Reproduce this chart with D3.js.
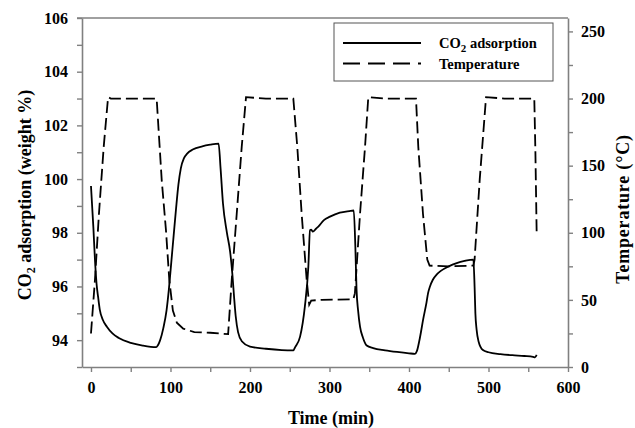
<!DOCTYPE html>
<html>
<head>
<meta charset="utf-8">
<script src="https://cdn.jsdelivr.net/npm/d3@7"></script>
<style>
  body { margin: 0; background: #fff; }
  text { font-family: "Liberation Serif", "Times New Roman", serif; font-weight: bold; fill: #000; }
</style>
</head>
<body>
<svg id="chart"></svg>
<script>
const totalWidth = 635;
const totalHeight = 428;

// CO2 adsorption (weight %) vs time (min)
const co2Time = [0, 3, 5, 7, 9, 11, 15, 20, 27, 35, 50, 65, 82, 84,
  87, 91, 95, 98, 101, 104, 107, 110, 113, 117, 121, 128, 140, 150, 160.5,
  163, 166, 171, 175, 178, 180, 182, 185, 190, 200, 220, 240, 254.5,
  257, 263, 269, 273.4, 275.5, 277, 279, 283, 286, 293, 300.6, 313, 325, 330.5,
  332.5, 334, 336, 338.4, 342, 346.8, 355, 370, 385, 400, 407.5,
  410, 413.8, 418, 422, 424, 426.4, 430, 435, 440, 450, 460, 470, 481,
  482.5, 483.5, 485, 487.5, 493, 500, 515, 530, 545, 556, 558.5, 560.6];
const co2Value = [99.74, 98.2, 97.0, 96.1, 95.6, 95.15, 94.75, 94.5, 94.25, 94.08, 93.9, 93.8, 93.74, 93.8,
  94.0, 94.45, 95.1, 95.9, 96.9, 97.9, 98.9, 99.8, 100.4, 100.78, 100.95, 101.1, 101.22, 101.28, 101.32,
  100.4, 99.1, 98.0, 97.3, 96.4, 95.6, 94.9, 94.3, 93.95, 93.76, 93.68, 93.63, 93.62,
  93.75, 94.13, 95.25, 96.74, 98.1, 98.12, 98.04, 98.15, 98.23, 98.47, 98.6, 98.75, 98.81, 98.83,
  97.5, 95.9, 95.1, 94.5, 94.1, 93.8, 93.7, 93.62, 93.56, 93.51, 93.49,
  93.6, 94.1, 94.8, 95.4, 95.75, 96.0, 96.25, 96.45, 96.58, 96.75, 96.87, 96.95, 97.0,
  96.0, 95.0, 94.4, 93.95, 93.63, 93.55, 93.48, 93.44, 93.41, 93.38, 93.36, 93.45];

// Temperature (deg C) vs time (min)
const tempTime = [0, 5, 10, 16, 21.5, 25, 40, 82.6,
  89, 94.3, 98.5, 103, 108, 116, 130, 150, 172.5,
  177, 183.3, 189.6, 195, 220, 254.5,
  259.5, 265, 271.3, 274.5, 277, 290, 330,
  332, 338.4, 344.7, 348.8, 370, 408.8,
  411.7, 417.6, 423, 425.9, 450, 481,
  482.5, 489, 496.9, 520, 557.6, 559, 560.6];
const tempValue = [25, 65, 114, 164, 201, 200, 200, 200,
  139, 102, 65, 42, 33, 28.6, 26, 25.5, 24.5,
  64.6, 114, 164, 201, 200, 200,
  164, 114, 65, 46.5, 49.5, 50, 50.5,
  55, 114, 164, 201, 200, 200,
  164, 114, 80, 75.5, 75, 75.5,
  80, 140, 201, 200, 200, 160, 99];

const xTicks = d3.range(0, 601, 50);
const xLabels = [0, 100, 200, 300, 400, 500, 600];
const yLeftTicks = d3.range(93, 106.01, 1);
const yLeftLabels = [94, 96, 98, 100, 102, 104, 106];
const yRightTicks = d3.range(0, 251, 25);
const yRightLabels = [0, 50, 100, 150, 200, 250];

const legendNames = ["CO2 adsorption", "Temperature"];

const svg = d3.select('#chart')
  .attr('width', totalWidth)
  .attr('height', totalHeight);

const plotLeft = 82, plotRight = 568, plotTop = 18, plotBottom = 367;

const x = d3.scaleLinear().domain([-11.3, 600]).range([plotLeft, plotRight]);
const yL = d3.scaleLinear().domain([93, 106]).range([plotBottom, plotTop]);
const yR = d3.scaleLinear().domain([0, 260]).range([plotBottom, plotTop]);

const axisColor = "#808080";

function styleAxis(g) {
  g.select(".domain").attr("stroke", axisColor).attr("stroke-width", 1.6);
  g.selectAll(".tick line").attr("stroke", axisColor).attr("stroke-width", 1.4);
  g.selectAll(".tick text").attr("font-size", "16px").attr("font-family", "Liberation Serif, Times New Roman, serif").attr("font-weight", "bold").attr("fill", "#000");
}

// top frame line
svg.append("line")
  .attr("x1", plotLeft - 5).attr("x2", plotRight)
  .attr("y1", plotTop).attr("y2", plotTop)
  .attr("stroke", axisColor).attr("stroke-width", 1.6);

svg.append("g")
  .attr("transform", `translate(0,${plotBottom})`)
  .call(d3.axisBottom(x).tickValues(xTicks).tickSize(5).tickSizeOuter(0).tickPadding(10)
    .tickFormat(d => xLabels.includes(d) ? d : ""))
  .call(styleAxis);

svg.append("g")
  .attr("transform", `translate(${plotLeft},0)`)
  .call(d3.axisLeft(yL).tickValues(yLeftTicks).tickSize(5).tickSizeOuter(0).tickPadding(9)
    .tickFormat(d => yLeftLabels.includes(d) ? d : ""))
  .call(styleAxis);

svg.append("g")
  .attr("transform", `translate(${plotRight},0)`)
  .call(d3.axisRight(yR).tickValues(yRightTicks).tickSize(5).tickSizeOuter(0).tickPadding(8)
    .tickFormat(d => yRightLabels.includes(d) ? d : ""))
  .call(styleAxis);

// series
const co2Line = d3.line()
  .x((d, i) => x(co2Time[i]))
  .y(d => yL(d))
  .curve(d3.curveMonotoneX);

svg.append("path")
  .attr("d", co2Line(co2Value))
  .attr("fill", "none")
  .attr("stroke", "#000")
  .attr("stroke-width", 1.8);

const tempLine = d3.line()
  .x((d, i) => x(tempTime[i]))
  .y(d => yR(d));

svg.append("path")
  .attr("d", tempLine(tempValue))
  .attr("fill", "none")
  .attr("stroke", "#000")
  .attr("stroke-width", 1.8)
  .attr("stroke-dasharray", "12,5");

// axis titles
svg.append("text")
  .attr("x", 331).attr("y", 424)
  .attr("text-anchor", "middle")
  .attr("font-size", "18px")
  .text("Time (min)");

const yTitle = svg.append("text")
  .attr("transform", "translate(31,195) rotate(-90)")
  .attr("text-anchor", "middle")
  .attr("font-size", "18px");
yTitle.append("tspan").text("CO");
yTitle.append("tspan").attr("font-size", "12px").attr("dy", 4).text("2");
yTitle.append("tspan").attr("dy", -4).text(" adsorption (weight %)");

svg.append("text")
  .attr("transform", "translate(629,209) rotate(-90)")
  .attr("text-anchor", "middle")
  .attr("font-size", "18px")
  .attr("letter-spacing", "0.8px")
  .text("Temperature (°C)");

// legend
const legend = svg.append("g");
legend.append("rect")
  .attr("x", 334).attr("y", 23)
  .attr("width", 219).attr("height", 58)
  .attr("fill", "#fff")
  .attr("stroke", "#555")
  .attr("stroke-width", 1);

legendNames.forEach((name, i) => {
  const ly = 43 + i * 20.5;
  legend.append("line")
    .attr("x1", 343).attr("x2", 421)
    .attr("y1", ly).attr("y2", ly)
    .attr("stroke", "#000")
    .attr("stroke-width", 1.8)
    .attr("stroke-dasharray", i === 0 ? null : "17,8");
  const t = legend.append("text")
    .attr("x", 439).attr("y", ly + 5)
    .attr("font-size", "14.5px");
  if (i === 0) {
    t.append("tspan").text("CO");
    t.append("tspan").attr("font-size", "11px").attr("dy", 4).text("2");
    t.append("tspan").attr("dy", -4).text(" adsorption");
  } else {
    t.text(name);
  }
});
</script>
</body>
</html>
